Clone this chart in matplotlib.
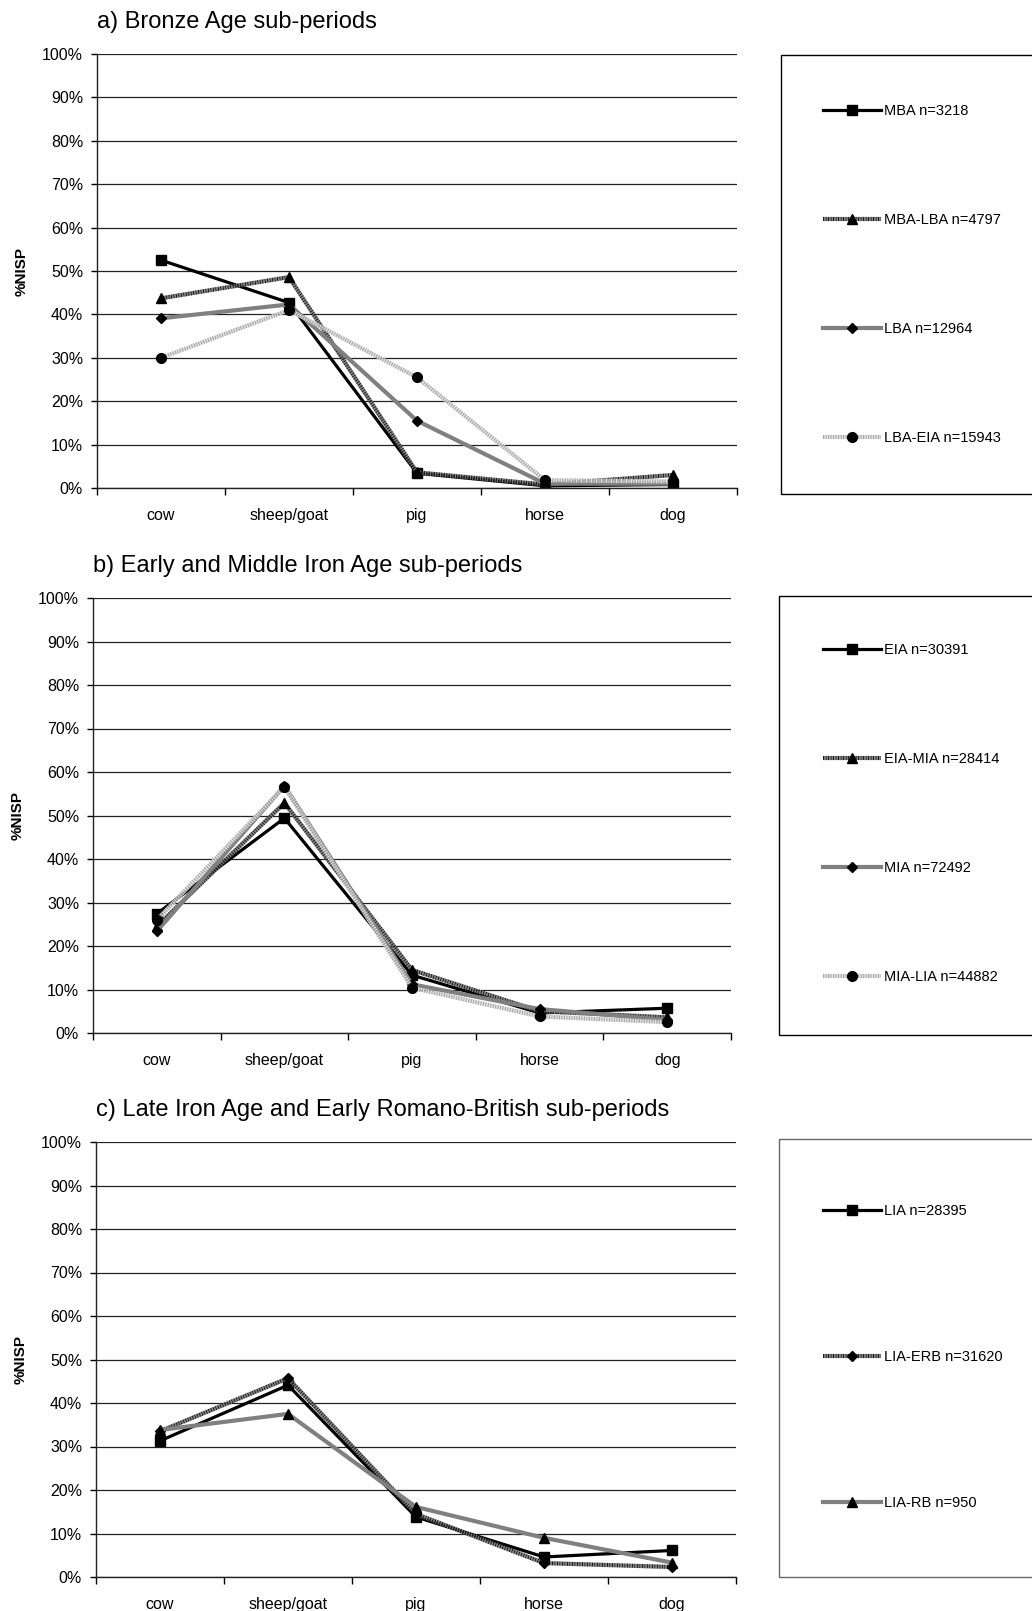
import matplotlib
matplotlib.use("Agg")
import matplotlib.pyplot as plt
from matplotlib.patches import Rectangle

plt.rcParams["font.family"] = ["Liberation Sans", "DejaVu Sans"]

categories = ["cow", "sheep/goat", "pig", "horse", "dog"]
y_ticks = [0, 10, 20, 30, 40, 50, 60, 70, 80, 90, 100]

# a) Bronze Age sub-periods  (% NISP)
a_title = "a) Bronze Age sub-periods"
a_labels = ["MBA n=3218", "MBA-LBA n=4797", "LBA n=12964", "LBA-EIA n=15943"]
a_mba = [52.5, 42.7, 3.4, 0.5, 0.8]
a_mba_lba = [43.7, 48.6, 3.6, 0.8, 3.0]
a_lba = [39.1, 42.3, 15.5, 1.0, 1.0]
a_lba_eia = [30.0, 41.0, 25.5, 1.8, 1.5]

# b) Early and Middle Iron Age sub-periods
b_title = "b) Early and Middle Iron Age sub-periods"
b_labels = ["EIA n=30391", "EIA-MIA n=28414", "MIA n=72492", "MIA-LIA n=44882"]
b_eia = [27.4, 49.4, 13.3, 4.6, 5.7]
b_eia_mia = [24.5, 52.9, 14.5, 5.0, 3.6]
b_mia = [23.4, 56.8, 11.2, 5.5, 3.0]
b_mia_lia = [26.0, 56.6, 10.4, 3.8, 2.5]

# c) Late Iron Age and Early Romano-British sub-periods
c_title = "c) Late Iron Age and Early Romano-British sub-periods"
c_labels = ["LIA n=28395", "LIA-ERB n=31620", "LIA-RB n=950"]
c_lia = [31.3, 44.1, 13.8, 4.6, 6.1]
c_lia_erb = [33.5, 45.7, 14.5, 3.2, 2.3]
c_lia_rb = [33.8, 37.5, 16.1, 9.0, 3.3]

# line looks (Excel-ish greyscale, hatched lines via gapcolor)
black_sq = dict(color="black", lw=2.3, marker="s", ms=6.5, mfc="black", mec="black")
dark_hatch = dict(color="#1e1e1e", gapcolor="#808080", ls=(0, (0.3, 0.3)), lw=3.0,
                  mfc="black", mec="black")
grey = dict(color="#808080", lw=3.0, mfc="black", mec="black")
light_hatch = dict(color="#a8a8a8", gapcolor="#e4e4e4", ls=(0, (0.3, 0.3)), lw=3.0,
                   marker="o", ms=7, mfc="black", mec="black")

W, H = 1032, 1611
fig = plt.figure(figsize=(W / 100, H / 100), dpi=100)


def px_axes(left, top, bottom, width):
    return fig.add_axes([left / W, 1 - bottom / H, width / W, (bottom - top) / H])


def panel(ax, title, series, labels, styles, box, leg_center, leg_space):
    x = list(range(len(categories)))
    for vals, lab, st in zip(series, labels, styles):
        ax.plot(x, vals, label=lab, **st)
    ax.set_xlim(-0.5, len(categories) - 0.5)
    ax.set_ylim(0, 100)
    ax.set_yticks(y_ticks)
    ax.set_yticklabels([f"{t}%" for t in y_ticks])
    ax.set_xticks(x)
    ax.set_xticklabels(categories)
    ax.set_xticks([i - 0.5 for i in range(len(categories) + 1)], minor=True)
    ax.tick_params(axis="x", which="major", length=0, pad=14.5, labelsize=11.5)
    ax.tick_params(axis="x", which="minor", length=5, width=1, direction="out")
    ax.tick_params(axis="y", length=4, width=1, pad=6, labelsize=11.5)
    ax.grid(axis="y", color="#222222", lw=0.9)
    ax.set_axisbelow(True)
    for s in ["top", "right"]:
        ax.spines[s].set_visible(False)
    for s in ["left", "bottom"]:
        ax.spines[s].set_color("#222222")
        ax.spines[s].set_linewidth(1)
    ax.set_ylabel("%NISP", fontsize=11, fontweight="bold", labelpad=10)
    ax.set_title(title, loc="left", fontsize=17, pad=19, x=0.0)
    bx, by0, by1, bcol = box
    fig.add_artist(Rectangle((bx / W, 1 - by1 / H), (W + 10 - bx) / W, (by1 - by0) / H,
                             transform=fig.transFigure, fill=False, edgecolor=bcol,
                             lw=1, clip_on=False))
    ax.legend(loc="center left", bbox_to_anchor=(823 / W, 1 - leg_center / H),
              bbox_transform=fig.transFigure, frameon=False, fontsize=10.5,
              handlelength=4.0, handletextpad=0.15, labelspacing=leg_space,
              borderpad=0, borderaxespad=0, numpoints=1)


ax_a = px_axes(97, 54, 488, 640)
panel(ax_a, a_title, [a_mba, a_mba_lba, a_lba, a_lba_eia], a_labels,
      [black_sq, dict(dark_hatch, marker="^", ms=7), dict(grey, marker="D", ms=5), light_hatch],
      (781, 55, 494, "black"), 274.5, 6.5)

ax_b = px_axes(93, 598, 1033, 638)
panel(ax_b, b_title, [b_eia, b_eia_mia, b_mia, b_mia_lia], b_labels,
      [black_sq, dict(dark_hatch, marker="^", ms=7), dict(grey, marker="D", ms=5), light_hatch],
      (779, 596, 1035, "black"), 813.5, 6.5)

ax_c = px_axes(96, 1142, 1577, 640)
panel(ax_c, c_title, [c_lia, c_lia_erb, c_lia_rb], c_labels,
      [black_sq, dict(dark_hatch, marker="D", ms=5), dict(grey, marker="^", ms=7)],
      (779, 1139, 1577, "#666666"), 1357, 9.05)

fig.savefig("out.png", dpi=100)
